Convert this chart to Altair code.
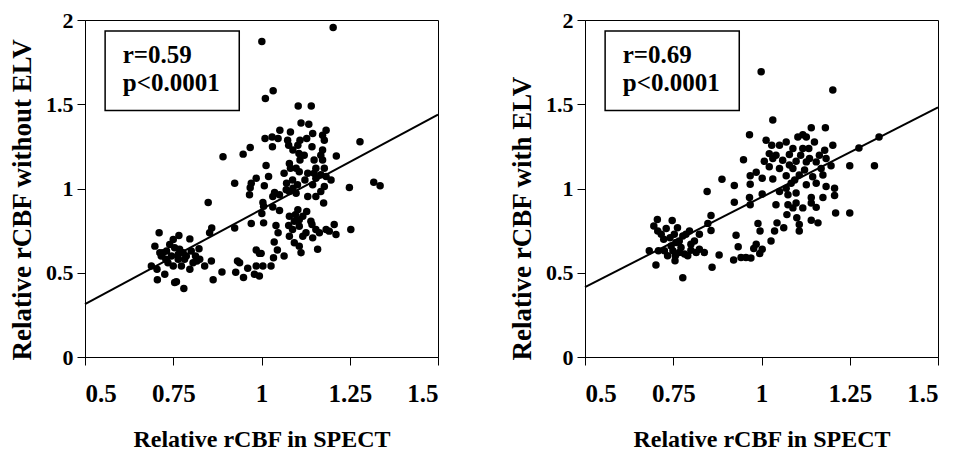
import altair as alt
import pandas as pd

FONT = "Liberation Serif"

# ---- data ----
left_x = [1.203, 1.001, 1.033, 1.011, 1.104, 1.141, 1.112, 1.134, 1.052, 1.183, 1.082, 1.030, 1.010, 1.047,
          1.074, 1.109, 1.128, 1.145, 1.173, 1.178, 1.279, 0.968, 1.031, 1.077, 1.103, 1.143, 1.173, 0.948,
          0.891, 1.106, 1.168, 1.212, 1.109, 1.079, 1.173, 1.013, 1.082, 1.098, 1.154, 1.178, 1.020, 1.064,
          1.107, 1.149, 1.168, 0.985, 0.971, 0.924, 1.088, 1.123, 1.154, 1.197, 1.318, 1.336, 1.249, 1.008,
          1.071, 1.102, 1.178, 0.968, 1.037, 1.051, 1.079, 1.089, 1.131, 1.154, 1.168, 0.966, 1.032, 1.004,
          1.176, 0.849, 1.006, 1.032, 1.051, 1.001, 1.103, 1.128, 1.079, 1.107, 1.117, 1.093, 1.140, 0.971,
          1.006, 1.041, 1.077, 1.088, 1.107, 1.143, 1.154, 1.183, 1.206, 1.253, 1.211, 1.047, 1.079, 1.117,
          1.145, 1.164, 1.192, 1.036, 1.107, 1.159, 0.985, 0.994, 1.045, 1.112, 1.034, 1.064, 0.999, 0.932,
          0.938, 0.961, 0.985, 1.004, 1.027, 0.927, 0.949, 0.980, 0.994, 0.888, 0.863, 0.858, 0.839, 0.859,
          0.853, 0.924,
          0.710, 0.698, 0.688, 0.704, 0.705, 0.726, 0.712, 0.731, 0.740, 0.750, 0.766, 0.754, 0.745, 0.735,
          0.750, 0.764, 0.778, 0.768, 0.787, 0.797, 0.801, 0.813, 0.817, 0.823, 0.797, 0.773, 0.759, 0.780,
          0.754, 0.721, 0.764, 0.782, 0.806, 0.825, 0.716, 0.729,
          1.089, 1.121, 1.149, 1.131, 1.070, 1.098, 1.145, 1.183, 1.096, 1.126, 1.093]
left_y = [1.955, 1.872, 1.580, 1.534, 1.489, 1.489, 1.389, 1.381, 1.346, 1.346, 1.336, 1.306, 1.297, 1.297,
          1.287, 1.287, 1.297, 1.326, 1.316, 1.287, 1.277, 1.244, 1.248, 1.257, 1.257, 1.248, 1.228, 1.204,
          1.189, 1.208, 1.198, 1.193, 1.169, 1.149, 1.169, 1.136, 1.120, 1.120, 1.120, 1.120, 1.071, 1.090,
          1.100, 1.090, 1.081, 1.061, 1.031, 1.031, 1.051, 1.051, 1.061, 1.051, 1.037, 1.016, 1.006, 1.016,
          1.031, 1.022, 1.012, 1.004, 0.976, 0.963, 0.982, 1.002, 0.953, 0.953, 0.982, 0.963, 0.953, 0.917,
          0.914, 0.917, 0.894, 0.890, 0.870, 0.851, 0.874, 0.864, 0.835, 0.815, 0.835, 0.806, 0.806, 0.792,
          0.796, 0.780, 0.780, 0.756, 0.776, 0.786, 0.756, 0.756, 0.786, 0.756, 0.727, 0.737, 0.717, 0.717,
          0.707, 0.737, 0.747, 0.682, 0.658, 0.639, 0.635, 0.615, 0.635, 0.619, 0.589, 0.599, 0.615, 0.570,
          0.560, 0.527, 0.540, 0.540, 0.540, 0.503, 0.472, 0.491, 0.481, 0.505, 0.458, 0.570, 0.540, 0.766,
          0.737, 0.766,
          0.737, 0.658, 0.540, 0.521, 0.458, 0.491, 0.619, 0.629, 0.668, 0.697, 0.721, 0.648, 0.599, 0.560,
          0.540, 0.580, 0.619, 0.639, 0.599, 0.701, 0.629, 0.599, 0.570, 0.642, 0.521, 0.540, 0.446, 0.407,
          0.442, 0.619, 0.609, 0.580, 0.560, 0.580, 0.599, 0.580,
          1.228, 1.198, 1.169, 1.090, 0.992, 0.972, 1.022, 1.071, 0.845, 0.737, 0.678]

right_x = [0.999, 1.202, 1.032, 0.966, 1.181, 1.141, 1.127, 1.103, 1.117, 1.013, 1.070, 1.051, 1.029, 1.202,
           1.333, 1.276, 1.150, 1.179, 1.089, 1.134, 1.022, 1.041, 1.079, 1.111, 1.164, 0.949, 1.008, 1.060,
           1.098, 1.136, 1.155, 1.197, 1.250, 1.320, 1.022, 1.051, 1.089, 1.122, 0.985, 0.968, 1.002, 1.032,
           1.070, 1.107, 1.145, 1.174, 0.888, 0.923, 0.968, 1.084, 1.127, 1.155, 1.183, 1.207, 0.846, 1.002,
           1.051, 1.075, 1.098, 1.141, 1.207, 0.966, 1.174, 0.923, 0.968, 1.098, 1.141, 1.041, 1.117, 1.155,
           1.210, 1.250, 0.857, 1.072, 1.100, 1.141, 1.160, 1.107, 1.044, 1.063, 1.037, 1.107, 0.990, 0.928,
           0.996, 0.857, 0.848, 1.027, 0.934, 0.985, 0.978, 1.002, 0.995, 0.880, 0.921, 0.942, 0.956, 0.970,
           0.860, 0.824, 0.838,
           0.682, 0.695, 0.705, 0.701, 0.708, 0.706, 0.730, 0.747, 0.723, 0.741, 0.753, 0.762, 0.725, 0.749,
           0.755, 0.767, 0.772, 0.782, 0.786, 0.796, 0.800, 0.791, 0.815, 0.810, 0.824, 0.777, 0.758, 0.744,
           0.777, 0.767, 0.734, 0.756, 0.716, 0.800,
           1.075, 1.089, 1.070, 1.094, 1.127, 1.032, 1.079, 1.117, 1.169, 1.183]
right_y = [1.693, 1.585, 1.407, 1.319, 1.360, 1.360, 1.305, 1.305, 1.319, 1.286, 1.276, 1.256, 1.256, 1.256,
           1.305, 1.241, 1.276, 1.227, 1.237, 1.237, 1.207, 1.198, 1.202, 1.198, 1.198, 1.170, 1.162, 1.168,
           1.162, 1.178, 1.158, 1.135, 1.135, 1.135, 1.129, 1.119, 1.119, 1.110, 1.096, 1.076, 1.061, 1.057,
           1.076, 1.080, 1.070, 1.080, 1.055, 1.018, 1.025, 1.031, 1.022, 1.031, 1.012, 1.002, 0.982, 0.967,
           0.982, 0.963, 0.973, 0.947, 0.959, 0.947, 0.947, 0.918, 0.904, 0.914, 0.914, 0.904, 0.885, 0.888,
           0.855, 0.855, 0.840, 0.845, 0.826, 0.812, 0.796, 0.787, 0.796, 0.767, 0.748, 0.748, 0.793, 0.722,
           0.748, 0.751, 0.793, 0.689, 0.654, 0.669, 0.644, 0.640, 0.614, 0.605, 0.575, 0.591, 0.591, 0.587,
           0.532, 0.640, 0.620,
           0.630, 0.777, 0.816, 0.546, 0.630, 0.748, 0.763, 0.810, 0.699, 0.708, 0.728, 0.767, 0.630, 0.630,
           0.571, 0.689, 0.650, 0.611, 0.728, 0.748, 0.669, 0.601, 0.620, 0.689, 0.728, 0.470, 0.679, 0.659,
           0.718, 0.620, 0.601, 0.601, 0.728, 0.634,
           0.904, 0.885, 1.002, 1.051, 1.158, 1.178, 1.139, 1.237, 1.119, 1.178]

line_x = [0.5, 1.5]
left_line_y = [0.314, 1.438]
right_line_y = [0.415, 1.481]

x_ticks = [0.5, 0.75, 1, 1.25, 1.5]
y_ticks = [0, 0.5, 1, 1.5, 2]

left_stats = ["r=0.59", "p<0.0001"]
right_stats = ["r=0.69", "p<0.0001"]
x_title = "Relative rCBF in SPECT"
left_y_title = "Relative rCBF without ELV"
right_y_title = "Relative rCBF with ELV"

PLOT_W = 353
PLOT_H = 337


def panel(xs, ys, lys, stats, ytitle):
    xsc = alt.Scale(domain=[0.5, 1.5], nice=False, zero=False)
    ysc = alt.Scale(domain=[0, 2], nice=False, zero=False)
    xax = alt.Axis(values=x_ticks, labelExpr="'' + datum.value", title=x_title,
                   tickSize=8, labelPadding=16, titlePadding=21,
                   labelFontSize=25, titleFontSize=24)
    yax = alt.Axis(values=y_ticks, labelExpr="'' + datum.value", title=ytitle,
                   tickSize=8, labelPadding=4, titlePadding=9,
                   titleAnchor="start", titleAlign="left", titleY=PLOT_H + 3,
                   labelFontSize=22, titleFontSize=27)

    pts = alt.Chart(pd.DataFrame({"x": xs, "y": ys})).mark_circle(
        size=56, color="black", opacity=1
    ).encode(x=alt.X("x:Q", scale=xsc, axis=xax), y=alt.Y("y:Q", scale=ysc, axis=yax))

    line = alt.Chart(pd.DataFrame({"x": line_x, "y": lys})).mark_line(
        color="black", strokeWidth=2
    ).encode(x="x:Q", y="y:Q")

    box = alt.Chart(pd.DataFrame({"x": [0.557], "x2": [0.937], "y": [1.935], "y2": [1.463]})).mark_rect(
        fill="white", stroke="black", strokeWidth=1.5
    ).encode(x="x:Q", x2="x2", y="y:Q", y2="y2")

    txt = alt.Chart(pd.DataFrame({"x": [0.607, 0.607], "y": [1.745, 1.58], "t": stats})).mark_text(
        align="left", baseline="alphabetic", font=FONT, fontWeight="bold", fontSize=25, color="black"
    ).encode(x="x:Q", y="y:Q", text="t:N")

    return alt.layer(pts, line, box, txt).properties(width=PLOT_W, height=PLOT_H)


chart = alt.hconcat(
    panel(left_x, left_y, left_line_y, left_stats, left_y_title),
    panel(right_x, right_y, right_line_y, right_stats, right_y_title),
    spacing=65,
).properties(padding=0).configure_axis(
    labelFont=FONT, titleFont=FONT, labelFontWeight="bold", titleFontWeight="bold",
    labelColor="black", titleColor="black", domainColor="black", tickColor="black",
    grid=False, domainWidth=1, tickWidth=1
).configure_view(stroke="black", strokeWidth=1)

chart.save("out.html", embed_options={"renderer": "svg", "actions": False})
